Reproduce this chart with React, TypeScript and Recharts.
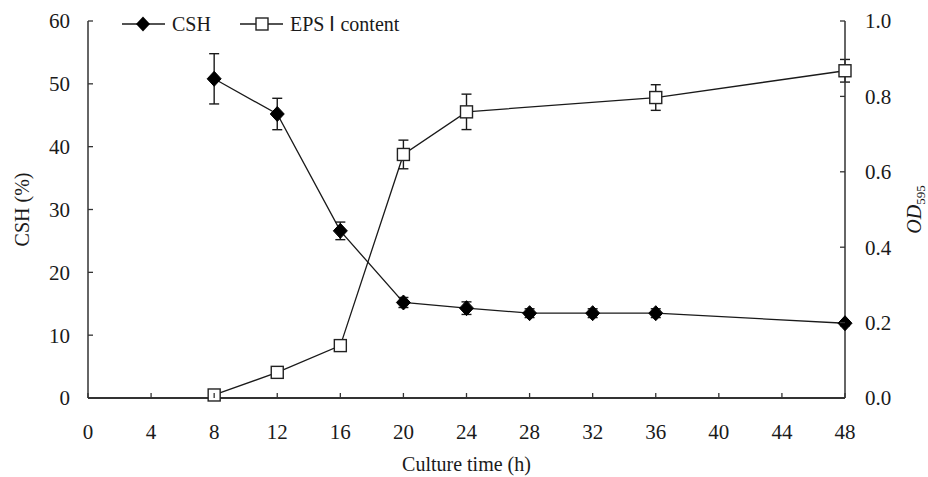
import { LineChart, Line, XAxis, YAxis, ErrorBar } from 'recharts';

// culture time (h) for each series
const cshHours = [8, 12, 16, 20, 24, 28, 32, 36, 48];
const cshValues = [50.8, 45.2, 26.6, 15.2, 14.3, 13.5, 13.5, 13.5, 11.9];
const cshErrors = [4.0, 2.5, 1.4, 0.8, 1.0, 0.7, 0.7, 0.7, 0.4];

const epsHours = [8, 12, 16, 20, 24, 36, 48];
const epsValues = [0.008, 0.068, 0.139, 0.646, 0.759, 0.797, 0.868];
const epsErrors = [0, 0, 0, 0.038, 0.047, 0.034, 0.03];

const xTicks = [0, 4, 8, 12, 16, 20, 24, 28, 32, 36, 40, 44, 48];
const leftTicks = [0, 10, 20, 30, 40, 50, 60];
const rightTicks = [0, 0.2, 0.4, 0.6, 0.8, 1.0];

const cshData = cshHours.map((h, i) => ({ time: h, csh: cshValues[i], cshErr: cshErrors[i] }));
const epsData = epsHours.map((h, i) => ({ time: h, eps: epsValues[i], epsErr: epsErrors[i] }));

const FONT = 'Liberation Serif, Times New Roman, serif';
const txt = { fontFamily: FONT };
const INK = '#1a1a1a';
const AXIS = '#333';

const XTick = ({ x, y, payload }: any) => (
  <g>
    <line x1={x} y1={y} x2={x} y2={y - 5} stroke={AXIS} strokeWidth={1.3} />
    <text x={x} y={y + 41} textAnchor="middle" style={txt} fontSize={21} fill={INK}>{payload.value}</text>
  </g>
);

const LeftTick = ({ x, y, payload }: any) => (
  <g>
    <line x1={x} y1={y} x2={x + 5} y2={y} stroke={AXIS} strokeWidth={1.3} />
    <text x={x - 18} y={y} dy="0.35em" textAnchor="end" style={txt} fontSize={21} fill={INK}>{payload.value}</text>
  </g>
);

const RightTick = ({ x, y, payload }: any) => (
  <g>
    <line x1={x} y1={y} x2={x - 5} y2={y} stroke={AXIS} strokeWidth={1.3} />
    <text x={x + 20} y={y} dy="0.35em" textAnchor="start" style={txt} fontSize={21} fill={INK}>{Number(payload.value).toFixed(1)}</text>
  </g>
);

const diamond = (props: any) => {
  const { cx, cy, index } = props;
  if (cx == null || cy == null) return <g key={`d${index}`} />;
  return <path key={`d${index}`} d={`M${cx},${cy - 7.5} L${cx + 7},${cy} L${cx},${cy + 7.5} L${cx - 7},${cy} Z`} fill="#000" stroke="#000" />;
};

const square = (props: any) => {
  const { cx, cy, index } = props;
  if (cx == null || cy == null) return <g key={`s${index}`} />;
  return <rect key={`s${index}`} x={cx - 6} y={cy - 6} width={12} height={12} fill="#fff" stroke="#222" strokeWidth={1.4} />;
};

const LeftLabel = ({ viewBox }: any) => {
  const cx = viewBox.x + 22;
  const cy = viewBox.y + viewBox.height / 2;
  return (
    <text x={cx} y={cy} transform={`rotate(-90 ${cx} ${cy})`} textAnchor="middle" dy="0.35em" style={txt} fontSize={20} fill={INK}>
      CSH (%)
    </text>
  );
};

const RightLabel = ({ viewBox }: any) => {
  const cx = viewBox.x + 69;
  const cy = viewBox.y + viewBox.height / 2;
  return (
    <text x={cx} y={cy} transform={`rotate(-90 ${cx} ${cy})`} textAnchor="middle" dy="0.35em" style={txt} fontSize={20} fill={INK}>
      <tspan fontStyle="italic">OD</tspan>
      <tspan fontSize={13} dy={4}>595</tspan>
    </text>
  );
};

const XLabel = ({ viewBox }: any) => (
  <text x={viewBox.x + viewBox.width / 2} y={viewBox.y + 73} textAnchor="middle" style={txt} fontSize={20} fill={INK}>
    Culture time (h)
  </text>
);

function LegendOverlay() {
  return (
    <svg width={460} height={50} style={{ position: 'absolute', left: 0, top: 0 }}>
      <line x1={122} y1={24} x2={165} y2={24} stroke={INK} strokeWidth={1.3} />
      <path d="M143,16.5 L150,24 L143,31.5 L136,24 Z" fill="#000" />
      <text x={172} y={31} style={txt} fontSize={20} fill={INK}>CSH</text>
      <line x1={240} y1={24} x2={283} y2={24} stroke={INK} strokeWidth={1.3} />
      <rect x={256} y={18} width={12} height={12} fill="#fff" stroke="#222" strokeWidth={1.4} />
      <text x={290} y={31} style={txt} fontSize={20} fill={INK}>EPS Ⅰ content</text>
    </svg>
  );
}

export default function App() {
  return (
    <div style={{ position: 'absolute', left: 0, top: 0, width: 928, height: 477, background: '#fff', fontFamily: FONT }}>
      <LineChart width={928} height={477} margin={{ top: 21, right: 0, bottom: 0, left: 0 }}>
        <XAxis
          dataKey="time"
          type="number"
          domain={[0, 48]}
          ticks={xTicks}
          interval={0}
          allowDuplicatedCategory={false}
          height={79}
          tickSize={0}
          tickMargin={0}
          tickLine={false}
          tick={<XTick />}
          axisLine={{ stroke: AXIS, strokeWidth: 2 }}
          label={<XLabel />}
        />
        <YAxis
          yAxisId="left"
          orientation="left"
          domain={[0, 60]}
          ticks={leftTicks}
          width={88}
          tickSize={0}
          tickMargin={0}
          tickLine={false}
          tick={<LeftTick />}
          axisLine={{ stroke: AXIS, strokeWidth: 1.5 }}
          label={<LeftLabel />}
        />
        <YAxis
          yAxisId="right"
          orientation="right"
          domain={[0, 1]}
          ticks={rightTicks}
          width={83}
          tickSize={0}
          tickMargin={0}
          tickLine={false}
          tick={<RightTick />}
          axisLine={{ stroke: AXIS, strokeWidth: 1.5 }}
          label={<RightLabel />}
        />
        <Line
          yAxisId="left"
          data={cshData}
          dataKey="csh"
          stroke={INK}
          strokeWidth={1.3}
          dot={diamond}
          activeDot={false}
          isAnimationActive={false}
        >
          <ErrorBar dataKey="cshErr" direction="y" width={5} stroke={INK} strokeWidth={1.4} />
        </Line>
        <Line
          yAxisId="right"
          data={epsData}
          dataKey="eps"
          stroke={INK}
          strokeWidth={1.3}
          dot={square}
          activeDot={false}
          isAnimationActive={false}
        >
          <ErrorBar dataKey="epsErr" direction="y" width={5} stroke={INK} strokeWidth={1.4} />
        </Line>
      </LineChart>
      <LegendOverlay />
    </div>
  );
}
